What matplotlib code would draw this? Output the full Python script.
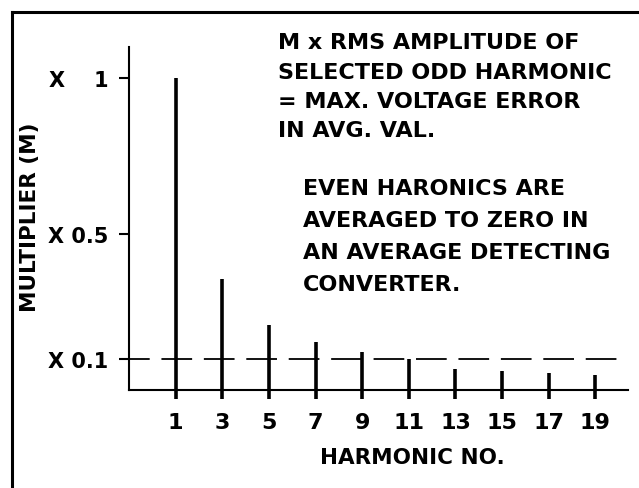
"""
Odd harmonic multipliers for an average detecting converter.
"""

import matplotlib

matplotlib.use("Agg")
import matplotlib.pyplot as plt
from matplotlib.lines import Line2D

harmonics = [1, 3, 5, 7, 9, 11, 13, 15, 17, 19]
multiplier = [1.0, 0.355, 0.21, 0.155, 0.122, 0.10, 0.066, 0.06, 0.055, 0.049]
ytick_values = [1.0, 0.5, 0.1]
ytick_labels = ["X    1", "X 0.5", "X 0.1"]
error_level = 0.1

note_1 = ["M x RMS AMPLITUDE OF", "SELECTED ODD HARMONIC",
          "= MAX. VOLTAGE ERROR", "IN AVG. VAL."]
note_2 = ["EVEN HARONICS ARE", "AVERAGED TO ZERO IN",
          "AN AVERAGE DETECTING", "CONVERTER."]

W, H = 639, 489
plt.rcParams["font.family"] = ["DejaVu Sans"]
plt.rcParams["font.weight"] = "bold"

fig = plt.figure(figsize=(W / 100, H / 100), dpi=100)
ax = fig.add_axes([129 / W, 1 - 391 / H, (628 - 129) / W, (391 - 48) / H])

# stems run a little below the baseline, like in the original drawing
ax.vlines(harmonics, -0.028, multiplier, colors="black", lw=2.6, clip_on=False)
ax.plot([-1.45, 20.1], [error_level, error_level], color="black", lw=1.3,
        dashes=(17, 6.5), clip_on=False)

ax.set_xlim(-1, 20.4)
ax.set_ylim(0, 1.10)
for side in ("top", "right"):
    ax.spines[side].set_visible(False)
for side in ("left", "bottom"):
    ax.spines[side].set_linewidth(1.5)

ax.set_yticks(ytick_values)
ax.set_yticklabels(ytick_labels)
ax.tick_params(axis="y", length=7, width=1.5, pad=8, labelsize=15)
ax.set_xticks(harmonics)
ax.set_xticklabels([str(h) for h in harmonics])
ax.tick_params(axis="x", length=0, pad=16, labelsize=16)

fig.text(412 / W, 1 - 458 / H, "HARMONIC NO.", ha="center", va="center",
         fontsize=15.5)
fig.text(30 / W, 1 - 217 / H, "MULTIPLIER (M)", ha="center", va="center",
         rotation=90, fontsize=15.5)

# baselines of the two notes, in pixels from the top
for line, base in zip(note_1, [49, 79, 108, 137]):
    fig.text(278 / W, 1 - base / H, line, ha="left", va="baseline", fontsize=16)
for line, base in zip(note_2, [195, 227, 259, 291]):
    fig.text(303 / W, 1 - base / H, line, ha="left", va="baseline", fontsize=16)

# frame of the original figure (only left and top edges show)
fig.add_artist(Line2D([12 / W, 12 / W], [0, 1 - 13 / H], color="black", lw=2.2))
fig.add_artist(Line2D([12 / W, 1], [1 - 13 / H, 1 - 13 / H], color="black", lw=2.2))

fig.savefig("out.png", dpi=100)
plt.close(fig)
